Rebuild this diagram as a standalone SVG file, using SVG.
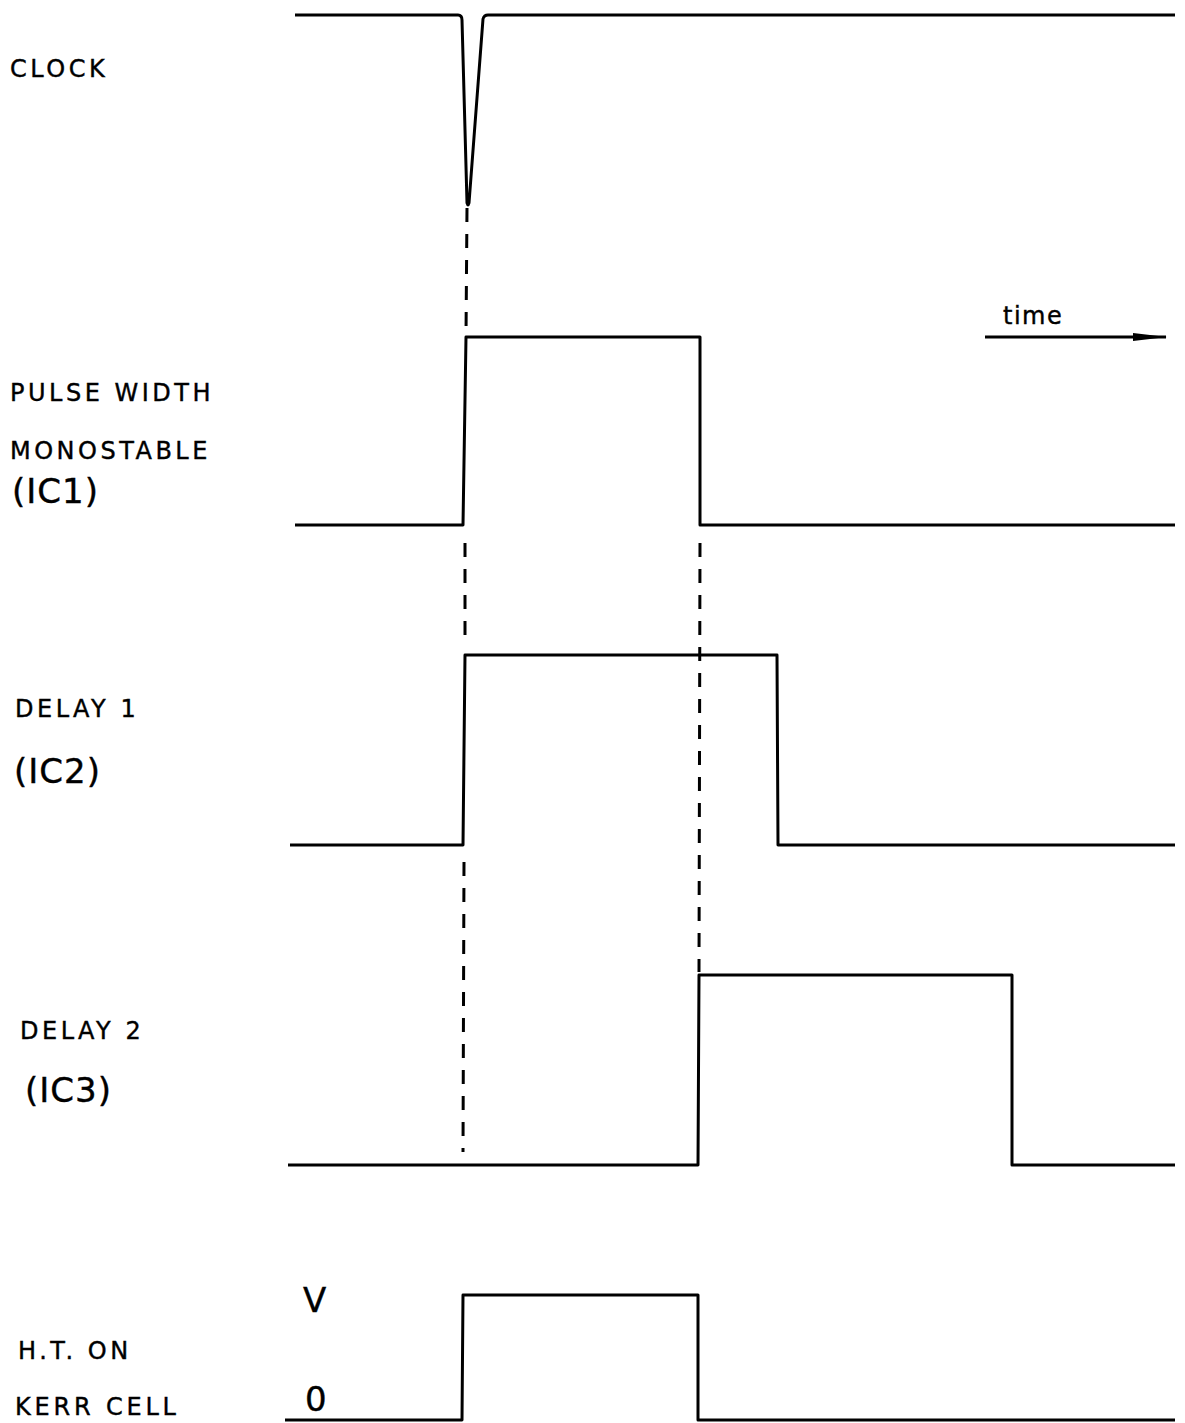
<svg xmlns="http://www.w3.org/2000/svg" width="1185" height="1423" viewBox="0 0 1185 1423">
<style>
.w{fill:none;stroke:#000;stroke-width:3;stroke-linejoin:round}
.d{fill:none;stroke:#000;stroke-width:3;stroke-dasharray:14 12}
.t{font-family:"DejaVu Sans","Liberation Sans",sans-serif;font-size:24px;fill:#000;stroke:#000;stroke-width:0.4;letter-spacing:3.5px}
.ic{font-family:"DejaVu Sans","Liberation Sans",sans-serif;font-size:34px;fill:#000;stroke:#000;stroke-width:0.4;letter-spacing:1px}
</style>
<defs>
<marker id="ah2" markerWidth="34" markerHeight="10" refX="33" refY="5" orient="auto" markerUnits="userSpaceOnUse" viewBox="0 0 34 10">
<path d="M0,1 L34,5 L0,9 Z" fill="#000"/>
</marker>
</defs>
<g id="labels">
<text class="t" x="10" y="77">CLOCK</text>
<text class="t" x="10" y="401">PULSE WIDTH</text>
<text class="t" x="10" y="459">MONOSTABLE</text>
<text class="ic" x="12" y="503">(IC1)</text>
<text class="t" x="15" y="717">DELAY 1</text>
<text class="ic" x="14" y="783">(IC2)</text>
<text class="t" x="20" y="1039">DELAY 2</text>
<text class="ic" x="25" y="1102">(IC3)</text>
<text class="ic" x="303" y="1312">V</text>
<text class="t" x="18" y="1359">H.T.  ON</text>
<text class="t" x="15" y="1415" style="letter-spacing:3.8px">KERR CELL</text>
<text class="ic" x="305" y="1411">0</text>
<text class="t" x="1003" y="324" style="letter-spacing:1.5px">time</text>
</g>
<g id="waveforms">
<path id="clock" class="w" d="M295,15 L458,15 Q462,15 462,20 L467,203 Q468,207 469,203 L483,19 Q484,15 488,15 L1175,15"/>
<path id="pulse" class="w" d="M295,525 L463,525 L466,337 L700,337 L700,525 L1175,525"/>
<path id="delay1" class="w" d="M290,845 L463,845 L465,655 L777,655 L778,845 L1175,845"/>
<path id="delay2" class="w" d="M288,1165 L698,1165 L699,975 L1012,975 L1012,1165 L1175,1165"/>
<path id="ht" class="w" d="M285,1420 L462,1420 L463,1295 L698,1295 L698,1420 L1175,1420"/>
</g>
<g id="connectors">
<path class="d" d="M467,208 L466,335"/>
<path class="d" d="M465,543 L465,640"/>
<path class="d" d="M464,862 L463,1152"/>
<path class="d" d="M700,543 L699,972"/>
<path d="M985,337 L1166,337" stroke="#000" stroke-width="3" fill="none" marker-end="url(#ah2)"/>
</g>
</svg>
